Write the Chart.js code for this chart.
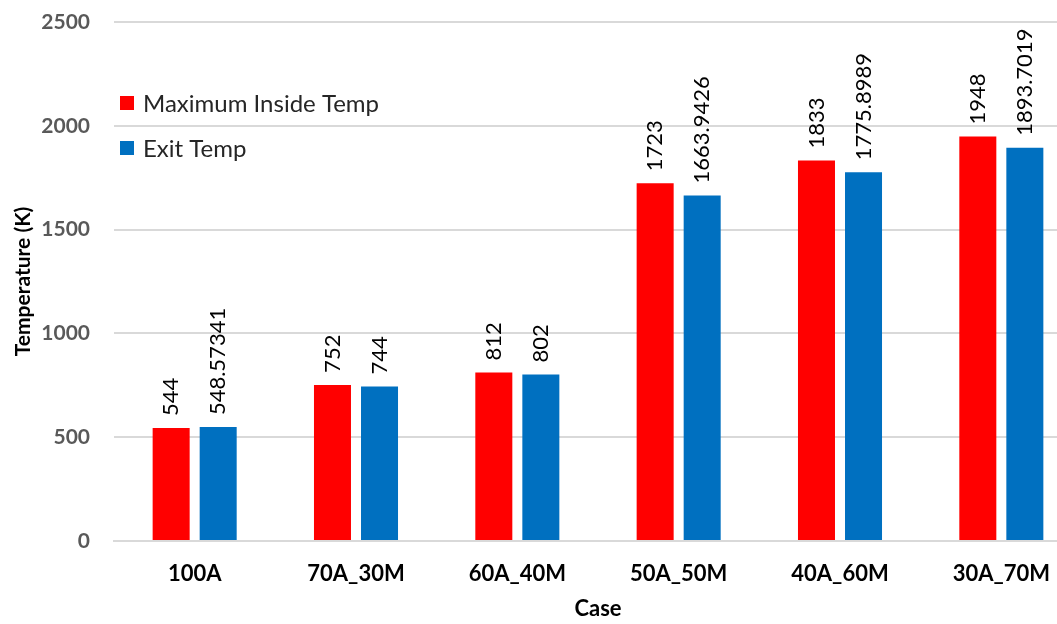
<!DOCTYPE html>
<html lang="en">
<head>
    <meta charset="UTF-8">
    <title>Temperature by Case</title>
    <script src="https://cdn.jsdelivr.net/npm/chart.js"></script>
    <style>
        html, body { margin: 0; padding: 0; background: #fff; overflow: hidden; }
        /* plot area runs a little past the right edge of the frame */
        #wrap { width: 1057px; height: 624px; overflow: hidden; }
    </style>
</head>
<body>
    <div id="wrap">
        <canvas id="tempChart" width="1082" height="624"></canvas>
    </div>

    <script>
        // Case names along the x axis
        const cases = ['100A', '70A_30M', '60A_40M', '50A_50M', '40A_60M', '30A_70M'];

        // Temperatures in kelvin
        const maxInsideTemp = [544, 752, 812, 1723, 1833, 1948];
        const exitTemp = [548.57341, 744, 802, 1663.9426, 1775.8989, 1893.7019];

        const seriesNames = ['Maximum Inside Temp', 'Exit Temp'];
        const seriesColors = ['#FF0000', '#0070C0'];

        const yTicks = [0, 500, 1000, 1500, 2000, 2500];

        const FONT = 'Lato, "Open Sans", sans-serif';

        // Rotated value labels above each bar
        const barLabels = {
            id: 'barLabels',
            afterDatasetsDraw(chart) {
                const ctx = chart.ctx;
                ctx.save();
                ctx.font = '22px ' + FONT;
                ctx.fillStyle = '#000';
                ctx.textAlign = 'left';
                ctx.textBaseline = 'middle';
                chart.data.datasets.forEach((ds, i) => {
                    chart.getDatasetMeta(i).data.forEach((bar, j) => {
                        ctx.save();
                        ctx.translate(bar.x, bar.y - 12);
                        ctx.rotate(-Math.PI / 2);
                        ctx.fillText(String(ds.data[j]), 0, 0);
                        ctx.restore();
                    });
                });
                ctx.restore();
            }
        };

        // Legend sitting inside the plot area, top left
        const innerLegend = {
            id: 'innerLegend',
            afterDraw(chart) {
                const ctx = chart.ctx;
                const area = chart.chartArea;
                ctx.save();
                ctx.font = '24px ' + FONT;
                ctx.textAlign = 'left';
                ctx.textBaseline = 'middle';
                chart.data.datasets.forEach((ds, i) => {
                    const y = area.top + 81 + i * 45;
                    ctx.fillStyle = ds.backgroundColor;
                    ctx.fillRect(area.left + 6, y - 7, 14, 14);
                    ctx.fillStyle = '#262626';
                    ctx.fillText(ds.label, area.left + 29, y + 1);
                });
                ctx.restore();
            }
        };

        const ctx = document.getElementById('tempChart').getContext('2d');
        new Chart(ctx, {
            type: 'bar',
            data: {
                labels: cases,
                datasets: [
                    { label: seriesNames[0], data: maxInsideTemp, backgroundColor: seriesColors[0] },
                    { label: seriesNames[1], data: exitTemp, backgroundColor: seriesColors[1] }
                ]
            },
            options: {
                responsive: false,
                animation: false,
                categoryPercentage: 0.583,
                barPercentage: 0.787,
                layout: { padding: { top: 22, right: 0, left: 0, bottom: 0 } },
                plugins: {
                    legend: { display: false },
                    tooltip: { enabled: false }
                },
                scales: {
                    x: {
                        grid: { display: false, drawTicks: false },
                        border: { color: '#d9d9d9', width: 2 },
                        ticks: {
                            color: '#000',
                            padding: 20,
                            font: { family: FONT, size: 22, weight: 'bold' }
                        },
                        title: {
                            display: true,
                            text: 'Case',
                            color: '#000',
                            padding: { top: 6, bottom: 2 },
                            font: { family: FONT, size: 22, weight: 'bold' }
                        },
                        afterFit(scale) { scale.height = 83; }
                    },
                    y: {
                        min: 0,
                        max: 2500,
                        afterBuildTicks(scale) { scale.ticks = yTicks.map(v => ({ value: v })); },
                        grid: { color: '#d9d9d9', lineWidth: 2, drawTicks: false },
                        border: { display: false },
                        ticks: {
                            color: '#595959',
                            padding: 24,
                            callback: v => String(v),
                            font: { family: FONT, size: 21, weight: 'bold' }
                        },
                        title: {
                            display: true,
                            text: 'Temperature (K)',
                            color: '#000',
                            padding: { top: 11, bottom: 4 },
                            font: { family: FONT, size: 21, weight: 'bold' }
                        },
                        afterFit(scale) {
                            scale.width = 114;
                            scale.paddingTop = 0;
                        }
                    }
                }
            },
            plugins: [barLabels, innerLegend]
        });
    </script>
</body>
</html>
